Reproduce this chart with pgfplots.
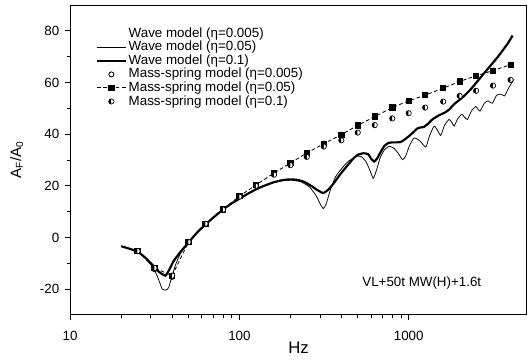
\documentclass[border=0pt]{standalone}
\usepackage{fontspec}
\setmainfont{Liberation Sans}
\usepackage{pgfplots}
\pgfplotsset{compat=1.18}
\usetikzlibrary{plotmarks}
\begin{document}
\begin{tikzpicture}
\useasboundingbox (-42pt,-28.7pt) rectangle (274.2pt,188.6pt);
\begin{axis}[
  at={(0,0)}, anchor=south west,
  scale only axis, width=273.6pt, height=185.6pt,
  xmode=log, xmin=10, xmax=5000,
  ymin=-30, ymax=90,
  xtick={10,100,1000}, xticklabels={10,100,1000},
  ytick={-20,0,20,40,60,80},
  minor y tick num=1,
  tick pos=left, tick align=outside,
  major tick length=3pt, minor tick length=1.8pt,
  /pgf/number format/assume math mode=true,
  tick label style={font=\fontsize{8}{9}\selectfont},
  xticklabel style={yshift=-3pt},
  xlabel={Hz}, ylabel={A\textsubscript{F}/A\textsubscript{0}},
  every axis x label/.style={at={(axis description cs:0.5,0)}, anchor=center, yshift=-19.5pt, font=\fontsize{10}{12}\selectfont},
  every axis y label/.style={at={(axis description cs:0,0.5)}, xshift=-32pt, anchor=center, rotate=90, font=\fontsize{9}{11}\selectfont},
  legend style={at={(axis description cs:0.045,0.945)}, anchor=north west, draw=none, fill=none,
    font=\fontsize{8}{9}\selectfont, row sep=-1.6pt, nodes={inner sep=1.2pt}},
  legend cell align=left,
  axis line style={line width=0.6pt},
  every tick/.style={black, line width=0.5pt},
]
% Wave model eta=0.005 (not visible)
\addlegendimage{line legend, white}
\addlegendentry{Wave model (η=0.005)}
% Wave model eta=0.05 (thin)
\addplot[black, line width=0.45pt, smooth, tension=0.3] coordinates {
(20,-3.4) (22,-4.2) (25,-5.5) (28,-8.2) (31,-11.8) (33,-15.5) (35,-20.0) (37,-20.3) (38.2,-19.4) (40,-15) (42,-10.5) (45,-6) (50,-2.0)
(56,1.8) (63,5.0) (71,8.0) (80,10.8) (90,13.2) (100,15.0) (112,16.9) (125,18.6) (140,20.0) (160,21.3) (180,22.0) (200,22.2)
(230,21.6) (260,19.5) (285,16) (300,13) (313,11.2) (325,12.8) (345,18.5) (370,23.5) (400,26.5) (440,29.5) (494,31.4) (525,31.3)
(560,29.3) (590,26) (618,22.9) (645,26) (680,31) (720,34) (770,35.3) (820,34.5) (870,32.5) (920,30.1) (960,31.5) (1010,35.5)
(1075,38.5) (1160,37.5) (1262,35.0) (1330,39.5) (1413,43.1) (1480,41.5) (1547,39.5) (1630,43.5) (1733,45.7) (1800,44.5)
(1855,43.1) (1950,46) (2061,47.7) (2140,46.5) (2224,45.7) (2350,49) (2490,50.7) (2560,49.8) (2640,48.9) (2800,52) (2946,52.9)
(3030,52.3) (3127,52) (3300,55) (3468,55.5) (3580,55.2) (3697,54.8) (3900,58) (4200,61.3)
};
\addlegendentry{Wave model (η=0.05)}
% Wave model eta=0.1 (thick)
\addplot[black, line width=1.3pt, smooth, tension=0.3] coordinates {
(20,-3.4) (22,-4.2) (25,-5.5) (28,-8.0) (31,-11.0) (33.5,-13.3) (36.5,-14.8) (38.5,-12.5) (41,-9.0) (45,-5.5) (50,-2.0)
(56,1.8) (63,5.0) (71,8.0) (80,10.8) (90,13.2) (100,15.0) (112,16.9) (125,18.6) (140,20.0) (160,21.4) (180,22.2) (200,22.5)
(220,22.3) (240,21.6) (265,20.0) (288,18.4) (313,17.2) (335,18.5) (361,21.0) (400,25.0) (434,27.8) (470,30.5) (500,32.0)
(540,32.6) (575,32.3) (600,30.5) (624,29.4) (650,30.5) (682,33.0) (720,35.5) (760,36.6) (800,36.8) (850,36.8) (900,37.0)
(950,38.0) (1028,39.8) (1125,42.2) (1180,42.6) (1232,42.8) (1300,44.0) (1381,45.7) (1511,47.3) (1654,48.5) (1750,49.8)
(1855,51.6) (2078,54.2) (2328,57.4) (2609,61.3) (2926,65.2) (3352,69.8) (3840,75) (4110,78.2)
};
\addlegendentry{Wave model (η=0.1)}
% Mass-spring eta=0.005 (open circles)
\addplot[only marks, mark=o, mark size=1.5pt, mark options={line width=0.5pt}] coordinates {
(25,-5.3) (31.5,-12.3) (40,-15.3) (50,-1.8) (63,5.3) (80,10.8) (100,16) (125,20.3) (160,24.9) (200,28.8) (250,32.7)
(315,36.3) (400,39.8) (500,43.4) (630,46.8) (800,50.3) (1000,52.9) (1250,55.1) (1600,57.8) (2000,60.4) (2500,62.6)
(3150,64.6) (4000,66.9)
};
\addlegendentry{Mass-spring model (η=0.005)}
% Mass-spring eta=0.05 (squares, dashed)
\addplot[black, line width=0.5pt, dash pattern=on 2.2pt off 1.5pt, mark=square*, mark size=1.6pt, mark options={solid, fill=black}] coordinates {
(25,-5.3) (31.5,-11.8) (40,-14.8) (50,-1.8) (63,5.3) (80,10.8) (100,16) (125,20.3) (160,24.9) (200,28.8) (250,32.7)
(315,36.3) (400,39.8) (500,43.4) (630,46.8) (800,50.3) (1000,52.9) (1250,55.1) (1600,57.8) (2000,60.4) (2500,62.6)
(3150,64.6) (4000,66.9)
};
\addlegendentry{Mass-spring model (η=0.05)}
% Mass-spring eta=0.1 (half-filled circles)
\addplot[only marks, mark=halfcircle*, mark size=1.6pt, mark options={rotate=90, fill=black, draw=black, line width=0.4pt}] coordinates {
(25,-5.3) (31.5,-11.8) (40,-14.8) (50,-1.8) (63,5.3) (80,10.8) (100,15.8) (125,20) (160,24.3) (200,28) (250,31.2)
(315,35.2) (400,37.6) (500,40.6) (630,43.5) (800,46.1) (1000,48.1) (1250,50.3) (1600,52.6) (2000,54.8) (2500,56.8)
(3150,58.8) (4000,61)
};
\addlegendentry{Mass-spring model (η=0.1)}
\node[font=\fontsize{8}{9}\selectfont] at (axis cs:1195,-17.6) {VL+50t MW(H)+1.6t};
\end{axis}
\end{tikzpicture}
\end{document}
